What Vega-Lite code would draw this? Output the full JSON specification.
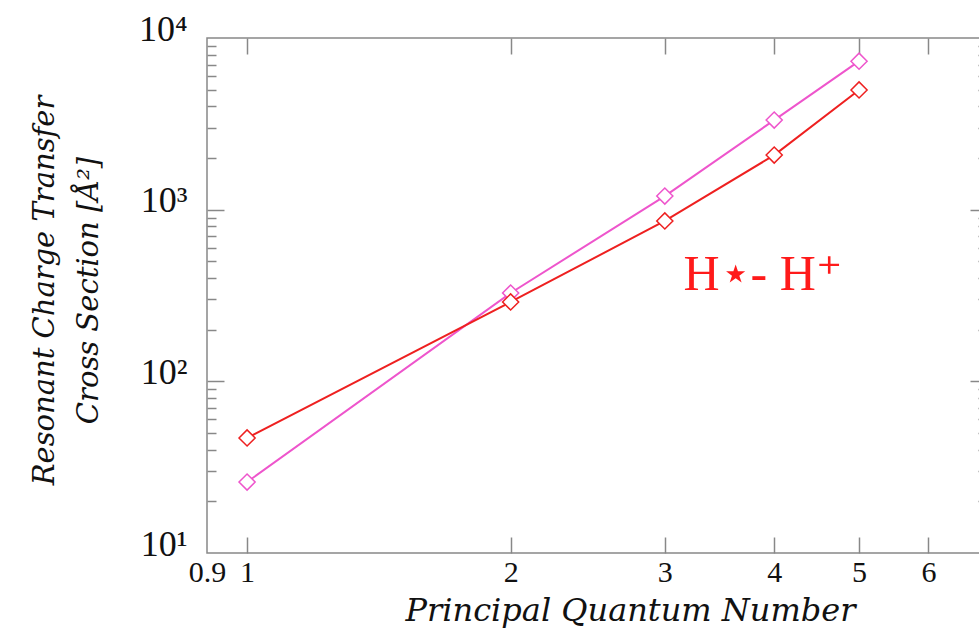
{
  "$schema": "https://vega.github.io/schema/vega-lite/v6.json",
  "width": 780,
  "height": 515,
  "autosize": "none",
  "padding": {"left": 207, "top": 38, "right": 0, "bottom": 78},
  "background": "white",
  "config": {
    "view": {"stroke": "#888888", "strokeWidth": 1.5},
    "font": "Liberation Serif"
  },
  "datasets": {
    "series": [
      {"n": 1, "sigma": 25.9, "series": "pink"},
      {"n": 2, "sigma": 327, "series": "pink"},
      {"n": 3, "sigma": 1200, "series": "pink"},
      {"n": 4, "sigma": 3325, "series": "pink"},
      {"n": 5, "sigma": 7330, "series": "pink"},
      {"n": 1, "sigma": 46.8, "series": "red"},
      {"n": 2, "sigma": 290, "series": "red"},
      {"n": 3, "sigma": 860, "series": "red"},
      {"n": 4, "sigma": 2080, "series": "red"},
      {"n": 5, "sigma": 4980, "series": "red"}
    ],
    "note": [
      {"n": 3.88, "sigma": 340, "label": "H⋆- H⁺"}
    ]
  },
  "layer": [
    {
      "data": {"name": "series"},
      "mark": {"type": "line", "strokeWidth": 2},
      "encoding": {
        "x": {
          "field": "n", "type": "quantitative",
          "scale": {"type": "log", "domain": [0.9, 7], "nice": false},
          "axis": {
            "orient": "bottom",
            "values": [0.9, 1, 2, 3, 4, 5, 6],
            "labelExpr": "datum.value + ''",
            "labelOverlap": false, "labelBound": false, "labelFlush": false,
            "ticks": false, "domain": false, "grid": false,
            "labelFont": "Liberation Serif", "labelFontSize": 30, "labelColor": "#111111",
            "labelPadding": 4, "labelBaseline": "top",
            "title": "Principal Quantum Number",
            "titleFont": "DejaVu Serif", "titleFontStyle": "italic", "titleFontWeight": "normal",
            "titleFontSize": 32, "titleColor": "#111111",
            "titleX": 423, "titleY": 67, "titleBaseline": "alphabetic", "titleAlign": "center"
          }
        },
        "y": {
          "field": "sigma", "type": "quantitative",
          "scale": {"type": "log", "domain": [10, 10000], "nice": false},
          "axis": {
            "orient": "left",
            "values": [10, 100, 1000, 10000],
            "labelExpr": "'10' + (datum.value == 10 ? '¹' : datum.value == 100 ? '²' : datum.value == 1000 ? '³' : '⁴')",
            "labelOverlap": false,
            "ticks": false, "domain": false, "grid": false,
            "labelFont": "Liberation Serif", "labelFontSize": 36, "labelColor": "#111111",
            "labelPadding": 20, "labelOffset": -9,
            "title": ["Resonant Charge Transfer", "Cross Section [Å²]"],
            "titleFont": "DejaVu Serif", "titleFontStyle": "italic", "titleFontWeight": "normal",
            "titleFontSize": 29, "titleColor": "#111111", "titleLineHeight": 44,
            "titleAngle": -90, "titleX": -177, "titleY": 252, "titleAlign": "center", "titleBaseline": "top"
          }
        },
        "color": {
          "field": "series", "type": "nominal",
          "scale": {"domain": ["pink", "red"], "range": ["#ee55cc", "#ee2020"]},
          "legend": null
        }
      }
    },
    {
      "data": {"name": "series"},
      "mark": {"type": "point", "shape": "diamond", "filled": true, "fill": "white", "size": 260, "strokeWidth": 1.5, "opacity": 1},
      "encoding": {
        "x": {"field": "n", "type": "quantitative", "axis": null},
        "y": {"field": "sigma", "type": "quantitative", "axis": null},
        "stroke": {
          "field": "series", "type": "nominal",
          "scale": {"domain": ["pink", "red"], "range": ["#ee55cc", "#ee2020"]},
          "legend": null
        }
      }
    },
    {
      "data": {"name": "note"},
      "mark": {"type": "text", "font": "Liberation Serif", "fontSize": 50, "color": "#ff1a1a", "align": "center", "baseline": "alphabetic"},
      "encoding": {
        "x": {"field": "n", "type": "quantitative", "axis": null},
        "y": {"field": "sigma", "type": "quantitative", "axis": null},
        "text": {"field": "label"}
      }
    },
    {
      "data": {"name": "note"},
      "mark": {"type": "point", "opacity": 0},
      "encoding": {
        "x": {"field": "n", "type": "quantitative",
          "axis": {"orient": "bottom", "values": [1, 2, 3, 4, 5, 6], "labels": false, "domain": false, "grid": false, "title": null, "tickSize": -16, "tickColor": "#888888", "tickWidth": 1.5}},
        "y": {"field": "sigma", "type": "quantitative",
          "axis": {"orient": "left", "values": [100, 1000], "labels": false, "domain": false, "grid": false, "title": null, "tickSize": -17, "tickColor": "#888888", "tickWidth": 1.5}}
      }
    },
    {
      "data": {"name": "note"},
      "mark": {"type": "point", "opacity": 0},
      "encoding": {
        "x": {"field": "n", "type": "quantitative",
          "axis": {"orient": "top", "values": [1, 2, 3, 4, 5, 6], "labels": false, "domain": false, "grid": false, "title": null, "tickSize": -16, "tickColor": "#888888", "tickWidth": 1.5}},
        "y": {"field": "sigma", "type": "quantitative",
          "axis": {"orient": "right", "values": [100, 1000], "labels": false, "domain": false, "grid": false, "title": null, "tickSize": -17, "tickColor": "#888888", "tickWidth": 1.5}}
      }
    },
    {
      "data": {"name": "note"},
      "mark": {"type": "point", "opacity": 0},
      "encoding": {
        "x": {"field": "n", "type": "quantitative", "axis": null},
        "y": {"field": "sigma", "type": "quantitative",
          "axis": {"orient": "left", "values": [20, 30, 40, 50, 60, 70, 80, 90, 200, 300, 400, 500, 600, 700, 800, 900, 2000, 3000, 4000, 5000, 6000, 7000, 8000, 9000], "labels": false, "domain": false, "grid": false, "title": null, "tickSize": -9, "tickColor": "#888888", "tickWidth": 1.5}}
      }
    },
    {
      "data": {"name": "note"},
      "mark": {"type": "point", "opacity": 0},
      "encoding": {
        "x": {"field": "n", "type": "quantitative", "axis": null},
        "y": {"field": "sigma", "type": "quantitative",
          "axis": {"orient": "right", "values": [20, 30, 40, 50, 60, 70, 80, 90, 200, 300, 400, 500, 600, 700, 800, 900, 2000, 3000, 4000, 5000, 6000, 7000, 8000, 9000], "labels": false, "domain": false, "grid": false, "title": null, "tickSize": -9, "tickColor": "#888888", "tickWidth": 1.5}}
      }
    }
  ],
  "resolve": {"axis": {"x": "independent", "y": "independent"}}
}
